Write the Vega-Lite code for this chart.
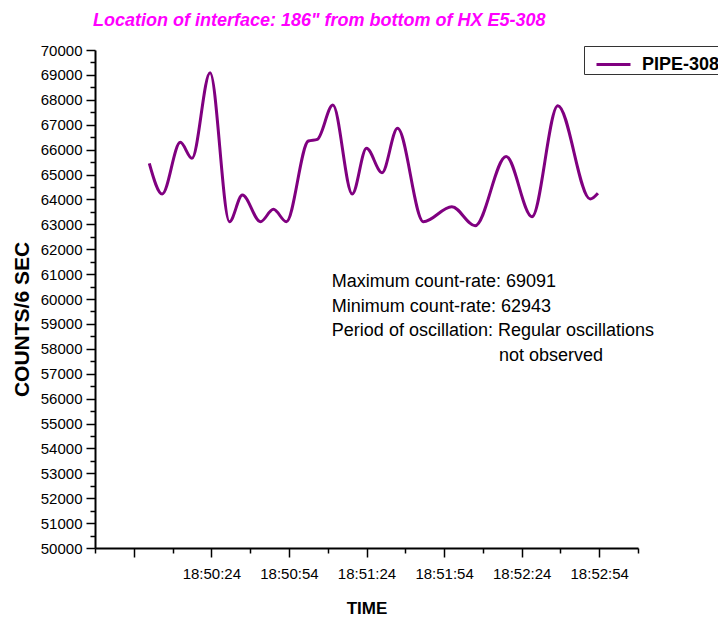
{
  "$schema": "https://vega.github.io/schema/vega-lite/v6.json",
  "width": 543,
  "height": 498,
  "autosize": {"type": "none"},
  "padding": {"left": 95, "top": 50, "right": 80, "bottom": 75},
  "background": "white",
  "config": {
    "view": {"stroke": null},
    "font": "Liberation Sans"
  },
  "title": {
    "text": "Location of interface: 186\" from bottom of HX E5-308",
    "font": "Liberation Sans",
    "fontSize": 18,
    "fontWeight": "bold",
    "fontStyle": "italic",
    "color": "#FF00FF",
    "anchor": "start",
    "frame": "group",
    "baseline": "alphabetic",
    "offset": -1,
    "dx": -2
  },
  "resolve": {"axis": {"x": "independent", "y": "independent"}},
  "datasets": {
    "counts": [
      {"time": "2020-01-01T18:50:00", "counts": 65450, "series": "PIPE-308"},
      {"time": "2020-01-01T18:50:05", "counts": 64217, "series": "PIPE-308"},
      {"time": "2020-01-01T18:50:12", "counts": 66293, "series": "PIPE-308"},
      {"time": "2020-01-01T18:50:16.5", "counts": 65651, "series": "PIPE-308"},
      {"time": "2020-01-01T18:50:23.5", "counts": 69091, "series": "PIPE-308"},
      {"time": "2020-01-01T18:50:31", "counts": 63104, "series": "PIPE-308"},
      {"time": "2020-01-01T18:50:36", "counts": 64177, "series": "PIPE-308"},
      {"time": "2020-01-01T18:50:43", "counts": 63104, "series": "PIPE-308"},
      {"time": "2020-01-01T18:50:48", "counts": 63602, "series": "PIPE-308"},
      {"time": "2020-01-01T18:50:53", "counts": 63104, "series": "PIPE-308"},
      {"time": "2020-01-01T18:51:01.5", "counts": 66345, "series": "PIPE-308"},
      {"time": "2020-01-01T18:51:05", "counts": 66414, "series": "PIPE-308"},
      {"time": "2020-01-01T18:51:11", "counts": 67790, "series": "PIPE-308"},
      {"time": "2020-01-01T18:51:18.5", "counts": 64217, "series": "PIPE-308"},
      {"time": "2020-01-01T18:51:24", "counts": 66052, "series": "PIPE-308"},
      {"time": "2020-01-01T18:51:30", "counts": 65074, "series": "PIPE-308"},
      {"time": "2020-01-01T18:51:36", "counts": 66855, "series": "PIPE-308"},
      {"time": "2020-01-01T18:51:46", "counts": 63104, "series": "PIPE-308"},
      {"time": "2020-01-01T18:51:57", "counts": 63707, "series": "PIPE-308"},
      {"time": "2020-01-01T18:52:06", "counts": 62943, "series": "PIPE-308"},
      {"time": "2020-01-01T18:52:18", "counts": 65727, "series": "PIPE-308"},
      {"time": "2020-01-01T18:52:28", "counts": 63305, "series": "PIPE-308"},
      {"time": "2020-01-01T18:52:38", "counts": 67763, "series": "PIPE-308"},
      {"time": "2020-01-01T18:52:50.5", "counts": 64016, "series": "PIPE-308"},
      {"time": "2020-01-01T18:52:53.5", "counts": 64245, "series": "PIPE-308"}
    ],
    "notes": [
      {"time": "2020-01-01T18:51:10.6", "counts": 60482, "text": "Maximum count-rate: 69091"},
      {"time": "2020-01-01T18:51:10.6", "counts": 59478, "text": "Minimum count-rate: 62943"},
      {"time": "2020-01-01T18:51:10.6", "counts": 58494, "text": "Period of oscillation: Regular oscillations"},
      {"time": "2020-01-01T18:52:15.2", "counts": 57510, "text": "not observed"}
    ]
  },
  "layer": [
    {
      "data": {"name": "counts"},
      "mark": {"type": "line", "interpolate": "monotone", "strokeWidth": 3},
      "encoding": {
        "x": {
          "field": "time",
          "type": "temporal",
          "title": "TIME",
          "scale": {
            "domain": [
              {"year": 2020, "month": 1, "date": 1, "hours": 18, "minutes": 49, "seconds": 39},
              {"year": 2020, "month": 1, "date": 1, "hours": 18, "minutes": 53, "seconds": 9}
            ],
            "nice": false
          },
          "axis": {
            "orient": "bottom",
            "values": [
              {"year": 2020, "month": 1, "date": 1, "hours": 18, "minutes": 49, "seconds": 54},
              {"year": 2020, "month": 1, "date": 1, "hours": 18, "minutes": 50, "seconds": 24},
              {"year": 2020, "month": 1, "date": 1, "hours": 18, "minutes": 50, "seconds": 54},
              {"year": 2020, "month": 1, "date": 1, "hours": 18, "minutes": 51, "seconds": 24},
              {"year": 2020, "month": 1, "date": 1, "hours": 18, "minutes": 51, "seconds": 54},
              {"year": 2020, "month": 1, "date": 1, "hours": 18, "minutes": 52, "seconds": 24},
              {"year": 2020, "month": 1, "date": 1, "hours": 18, "minutes": 52, "seconds": 54}
            ],
            "labelExpr": "minutes(datum.value) >= 50 ? timeFormat(datum.value, '%H:%M:%S') : ''",
            "labelOverlap": false,
            "labelFlush": false,
            "labelFont": "Liberation Sans",
            "labelFontSize": 15,
            "labelColor": "black",
            "labelPadding": 9,
            "tickSize": 9,
            "tickColor": "black",
            "tickWidth": 1.5,
            "domainColor": "black",
            "domainWidth": 2,
            "grid": false,
            "titleFont": "Liberation Sans",
            "titleFontSize": 17,
            "titleFontWeight": "bold",
            "titleColor": "black",
            "titlePadding": 19
          }
        },
        "y": {
          "field": "counts",
          "type": "quantitative",
          "title": "COUNTS/6 SEC",
          "scale": {"domain": [50000, 70000], "nice": false, "zero": false},
          "axis": {
            "orient": "left",
            "values": [50000, 51000, 52000, 53000, 54000, 55000, 56000, 57000, 58000, 59000, 60000, 61000, 62000, 63000, 64000, 65000, 66000, 67000, 68000, 69000, 70000],
            "format": "d",
            "labelOverlap": false,
            "labelFlush": false,
            "labelFont": "Liberation Sans",
            "labelFontSize": 15,
            "labelColor": "black",
            "labelPadding": 4,
            "tickSize": 9,
            "tickColor": "black",
            "tickWidth": 1.5,
            "domainColor": "black",
            "domainWidth": 2,
            "grid": false,
            "titleFont": "Liberation Sans",
            "titleFontSize": 21,
            "titleFontWeight": "bold",
            "titleColor": "black",
            "titleX": -73,
            "titleY": 269,
            "titleAngle": -90,
            "titleAlign": "center",
            "titleBaseline": "middle"
          }
        },
        "color": {
          "field": "series",
          "type": "nominal",
          "scale": {"range": ["#800080"]},
          "legend": {
            "title": null,
            "orient": "none",
            "legendX": 489,
            "legendY": -4,
            "symbolType": "stroke",
            "symbolSize": 1156,
            "symbolStrokeWidth": 3,
            "symbolOffset": 11,
            "labelFont": "Liberation Sans",
            "labelFontSize": 18,
            "labelFontWeight": "bold",
            "labelColor": "black",
            "labelOffset": 10,
            "padding": 0,
            "strokeColor": "#333333",
            "fillColor": "white"
          }
        }
      }
    },
    {
      "data": {"name": "notes"},
      "mark": {"type": "text", "align": "left", "baseline": "alphabetic", "font": "Liberation Sans", "fontSize": 18, "color": "black"},
      "encoding": {
        "x": {
          "field": "time",
          "type": "temporal",
          "axis": {
            "orient": "bottom",
            "values": [
              {"year": 2020, "month": 1, "date": 1, "hours": 18, "minutes": 49, "seconds": 39},
              {"year": 2020, "month": 1, "date": 1, "hours": 18, "minutes": 50, "seconds": 9},
              {"year": 2020, "month": 1, "date": 1, "hours": 18, "minutes": 50, "seconds": 39},
              {"year": 2020, "month": 1, "date": 1, "hours": 18, "minutes": 51, "seconds": 9},
              {"year": 2020, "month": 1, "date": 1, "hours": 18, "minutes": 51, "seconds": 39},
              {"year": 2020, "month": 1, "date": 1, "hours": 18, "minutes": 52, "seconds": 9},
              {"year": 2020, "month": 1, "date": 1, "hours": 18, "minutes": 52, "seconds": 39},
              {"year": 2020, "month": 1, "date": 1, "hours": 18, "minutes": 53, "seconds": 9}
            ],
            "labels": false,
            "domain": false,
            "title": null,
            "tickSize": 5,
            "tickColor": "black",
            "tickWidth": 1.5,
            "grid": false
          }
        },
        "y": {
          "field": "counts",
          "type": "quantitative",
          "axis": {
            "orient": "left",
            "values": [50500, 51500, 52500, 53500, 54500, 55500, 56500, 57500, 58500, 59500, 60500, 61500, 62500, 63500, 64500, 65500, 66500, 67500, 68500, 69500],
            "labels": false,
            "domain": false,
            "title": null,
            "tickSize": 5,
            "tickColor": "black",
            "tickWidth": 1.5,
            "grid": false
          }
        },
        "text": {"field": "text"}
      }
    }
  ]
}
